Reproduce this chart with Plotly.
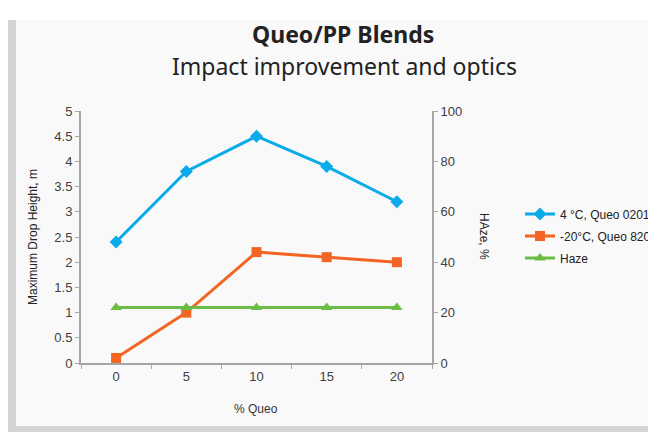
import plotly.graph_objects as go

# Data
queo_pct = ["0", "5", "10", "15", "20"]
drop_4c_0201 = [2.4, 3.8, 4.5, 3.9, 3.2]
drop_m20c_8201 = [0.1, 1.0, 2.2, 2.1, 2.0]
haze = [22, 22, 22, 22, 22]

BLUE = "#0aabe8"
ORANGE = "#f26522"
GREEN = "#6cbd45"
AXIS = "#a6a6a6"
TEXT = "#404040"
BAND = "#d4d4d6"

# the page puts the figure 8px in from the window corner
OFF = 8
L, T, PW, PH = 81 - OFF, 111 - OFF, 351, 252


def xp(win_x):
    return (win_x - OFF - L) / PW


def yp(win_y):
    return (T + PH - (win_y - OFF)) / PH


fig = go.Figure()

fig.add_trace(go.Scatter(
    x=queo_pct, y=drop_4c_0201, name="4 °C, Queo 0201", legendgroup="a",
    mode="lines+markers",
    line=dict(color=BLUE, width=3),
    marker=dict(symbol="diamond", size=10, color=BLUE),
))
fig.add_trace(go.Scatter(
    x=queo_pct, y=drop_m20c_8201, name="-20°C, Queo 8201", legendgroup="b",
    mode="lines+markers",
    line=dict(color=ORANGE, width=3),
    marker=dict(symbol="square", size=10, color=ORANGE),
))
fig.add_trace(go.Scatter(
    x=queo_pct, y=haze, name="Haze", yaxis="y2", legendgroup="c",
    mode="lines+markers",
    line=dict(color=GREEN, width=3),
    marker=dict(symbol="triangle-up", size=10, color=GREEN),
))

tick_font = dict(family="Liberation Sans, Arial, sans-serif", size=13, color=TEXT)
W, H = 700, 440

fig.update_layout(
    width=W,
    height=H,
    paper_bgcolor="white",
    plot_bgcolor="rgba(0,0,0,0)",
    margin=dict(l=L, r=W - L - PW, t=T, b=H - T - PH, autoexpand=False),
    font=tick_font,
    showlegend=True,
    legend=dict(
        x=xp(520), y=yp(236), xanchor="left", yanchor="middle",
        bgcolor="rgba(0,0,0,0)",
        font=dict(family="Liberation Sans, Arial, sans-serif", size=12, color="#222"),
        itemwidth=30, tracegroupgap=3,
    ),
    xaxis=dict(
        type="category",
        tickson="boundaries",
        ticks="outside", ticklen=4, tickcolor=AXIS,
        showline=True, linecolor=AXIS, linewidth=2,
        showgrid=False, zeroline=False,
        range=[-0.5, 4.5],
        tickfont=tick_font,
    ),
    yaxis=dict(
        range=[0, 5], dtick=0.5,
        tickformat="~g",
        ticks="outside", ticklen=4, tickcolor=AXIS,
        showline=True, linecolor=AXIS, linewidth=2,
        showgrid=False, zeroline=False,
        tickfont=tick_font,
    ),
    yaxis2=dict(
        overlaying="y", side="right",
        range=[0, 100], dtick=20,
        ticks="outside", ticklen=4, tickcolor=AXIS,
        showline=True, linecolor=AXIS, linewidth=2,
        showgrid=False, zeroline=False,
        tickfont=tick_font,
    ),
)

# light panel and gray frame bands (left and bottom)
fig.add_shape(type="rect", xref="paper", yref="paper",
              x0=xp(16), x1=xp(720), y0=yp(426), y1=yp(20),
              fillcolor="#f9f9f9", line_width=0, layer="below")
fig.add_shape(type="rect", xref="paper", yref="paper",
              x0=xp(5), x1=xp(16), y0=yp(450), y1=yp(20),
              fillcolor=BAND, line_width=0, layer="below")
fig.add_shape(type="rect", xref="paper", yref="paper",
              x0=xp(5), x1=xp(720), y0=yp(450), y1=yp(426),
              fillcolor=BAND, line_width=0, layer="below")

# titles
fig.add_annotation(
    text="<b>Queo/PP Blends</b>", xref="paper", yref="paper",
    x=xp(343), y=yp(34), xanchor="center", yanchor="middle", showarrow=False,
    font=dict(family="Noto Sans, Lato, sans-serif", size=23, color="#222"),
)
fig.add_annotation(
    text="Impact improvement and optics", xref="paper", yref="paper",
    x=xp(344), y=yp(66), xanchor="center", yanchor="middle", showarrow=False,
    font=dict(family="Noto Sans, Lato, sans-serif", size=23, color="#222"),
)
fig.add_annotation(
    text="Maximum Drop Height, m", xref="paper", yref="paper",
    x=xp(33), y=yp(237), xanchor="center", yanchor="middle",
    showarrow=False, textangle=-90,
    font=dict(family="Liberation Sans, Arial, sans-serif", size=12, color="#222"),
)
fig.add_annotation(
    text="HAze, %", xref="paper", yref="paper",
    x=xp(484), y=yp(236), xanchor="center", yanchor="middle",
    showarrow=False, textangle=90,
    font=dict(family="Liberation Sans, Arial, sans-serif", size=12, color="#222"),
)
fig.add_annotation(
    text="% Queo", xref="paper", yref="paper",
    x=xp(256), y=yp(409), xanchor="center", yanchor="middle", showarrow=False,
    font=dict(family="Liberation Sans, Arial, sans-serif", size=12, color="#333"),
)

fig.write_html("out.html")
